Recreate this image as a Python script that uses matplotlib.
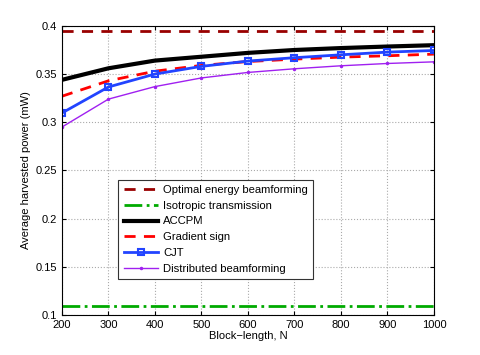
import numpy as np
import matplotlib
matplotlib.use('Agg')
import matplotlib.pyplot as plt

plt.rcParams['font.family'] = ['Liberation Sans', 'DejaVu Sans']

# Block lengths
N = [200, 300, 400, 500, 600, 700, 800, 900, 1000]

# Average harvested power (mW)
optimal = [0.395] * len(N)
isotropic = [0.109] * len(N)
accpm = [0.344, 0.356, 0.364, 0.368, 0.372, 0.375, 0.377, 0.3786, 0.380]
gradient = [0.327, 0.343, 0.353, 0.359, 0.363, 0.3655, 0.3676, 0.369, 0.3707]
cjt = [0.3096, 0.3366, 0.350, 0.358, 0.3635, 0.367, 0.370, 0.3728, 0.3745]
distributed = [0.295, 0.324, 0.337, 0.346, 0.3517, 0.3555, 0.3586, 0.361, 0.3627]

fig = plt.figure(figsize=(4.8, 3.55), dpi=100)
ax = fig.add_axes([0.129, 0.113, 0.775, 0.814])

ax.plot(N, optimal, '--', color='#990000', lw=2, dashes=(4, 3), label='Optimal energy beamforming')
ax.plot(N, isotropic, '-.', color='#00aa00', lw=2, label='Isotropic transmission')
ax.plot(N, accpm, '-', color='black', lw=3, label='ACCPM')
ax.plot(N, gradient, '--', color='#ff0000', lw=2, dashes=(4, 3), label='Gradient sign')
ax.plot(N, cjt, '-s', color='#2244ff', lw=2, markersize=5, markerfacecolor='none',
        markeredgewidth=1.5, label='CJT')
ax.plot(N, distributed, '-', color='#a020f0', lw=1, marker='.', markersize=3,
        label='Distributed beamforming')

ax.set_xlim(200, 1000)
ax.set_ylim(0.1, 0.4)
ax.set_xticks(N)
ax.set_yticks([0.1, 0.15, 0.2, 0.25, 0.3, 0.35, 0.4])
ax.set_yticklabels(['0.1', '0.15', '0.2', '0.25', '0.3', '0.35', '0.4'])
ax.tick_params(labelsize=8, direction='in', length=3, top=True, right=True)
ax.grid(True, linestyle=':', color='#aaaaaa', lw=0.8)

ax.set_xlabel('Block\u2212length, N', fontsize=8, labelpad=1)
ax.set_ylabel('Average harvested power (mW)', fontsize=8, labelpad=3)

leg = ax.legend(loc='lower left', bbox_to_anchor=(0.152, 0.124), fontsize=8.1,
                fancybox=False, framealpha=1, edgecolor='#333333', borderpad=0.45,
                labelspacing=0.52, handlelength=3.1, handletextpad=0.4,
                borderaxespad=0)
leg.get_frame().set_linewidth(0.8)

plt.savefig('out.png', dpi=100)
plt.close()
